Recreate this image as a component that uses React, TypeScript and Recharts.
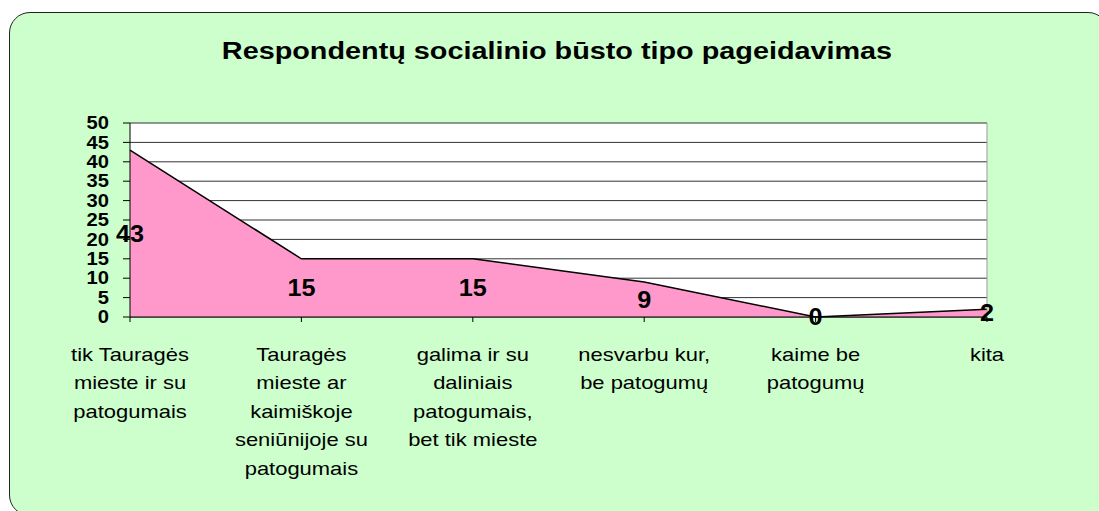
import { AreaChart, Area, XAxis, YAxis, CartesianGrid, LabelList, ReferenceLine } from 'recharts';

// Chart data
const categories = [
  'tik Tauragės mieste ir su patogumais',
  'Tauragės mieste ar kaimiškoje seniūnijoje su patogumais',
  'galima ir su daliniais patogumais, bet tik mieste',
  'nesvarbu kur, be patogumų',
  'kaime be patogumų',
  'kita',
];
// How each category label wraps in the reference
const categoryLines = [
  ['tik Tauragės', 'mieste ir su', 'patogumais'],
  ['Tauragės', 'mieste ar', 'kaimiškoje', 'seniūnijoje su', 'patogumais'],
  ['galima ir su', 'daliniais', 'patogumais,', 'bet tik mieste'],
  ['nesvarbu kur,', 'be patogumų'],
  ['kaime be', 'patogumų'],
  ['kita'],
];
const values = [43, 15, 15, 9, 0, 2];
const yTicks = [0, 5, 10, 15, 20, 25, 30, 35, 40, 45, 50];

const title = 'Respondentų socialinio būsto tipo pageidavimas';

const FONT = '"Liberation Sans", Arial, sans-serif';
const CHART_W = 1099;
const CHART_H = 511;
const MARGIN = { top: 123, right: 112, left: 30, bottom: 14 };
const X_AXIS_H = 180;
const PLOT_BOTTOM = CHART_H - MARGIN.bottom - X_AXIS_H;

const data = categories.map((name, i) => ({ name, value: values[i] }));

function XTick(props: any) {
  const { x, y, payload } = props;
  const idx = categories.indexOf(payload.value);
  const lines = categoryLines[idx] ?? [payload.value];
  return (
    <g transform={`translate(${x},${y})`}>
      <text transform="scale(1.22,1)" textAnchor="middle" fontSize={18} fontFamily={FONT} fill="#000">
        {lines.map((l, i) => (
          <tspan key={i} x={0} y={39 + i * 28.5}>
            {l}
          </tspan>
        ))}
      </text>
    </g>
  );
}

function YTick(props: any) {
  const { x, y, payload } = props;
  return (
    <g transform={`translate(${x},${y}) scale(1.12,1)`}>
      <text textAnchor="end" dominantBaseline="central" fontSize={18} fontWeight="bold" fontFamily={FONT} fill="#000">
        {payload.value}
      </text>
    </g>
  );
}

// Excel puts the value label halfway between the point and the axis
function ValueLabel(props: any) {
  const { x, y, value } = props;
  const midY = (y + PLOT_BOTTOM) / 2;
  return (
    <g transform={`translate(${x},${midY}) scale(1.05,1)`}>
      <text textAnchor="middle" dominantBaseline="central" fontSize={24} fontWeight="bold" fontFamily={FONT} fill="#000">
        {value}
      </text>
    </g>
  );
}

export default function App() {
  return (
    <div style={{ position: 'fixed', left: 0, top: 0, width: CHART_W, height: CHART_H, overflow: 'hidden' }}>
      <div
        style={{
          position: 'absolute',
          left: 9,
          top: 12,
          width: 1100,
          height: 504,
          boxSizing: 'border-box',
          border: '1px solid #222',
          borderRadius: 21,
          background: '#CCFFCC',
        }}
      />
      <svg width={CHART_W} height={90} style={{ position: 'absolute', left: 0, top: 0 }}>
        <g transform="translate(557,59) scale(1.2,1)">
          <text textAnchor="middle" fontSize={24} fontWeight="bold" fontFamily={FONT} fill="#000">
            {title}
          </text>
        </g>
      </svg>
      <div style={{ position: 'absolute', left: 0, top: 0 }}>
        <AreaChart width={CHART_W} height={CHART_H} data={data} margin={MARGIN}>
          <CartesianGrid vertical={false} stroke="#333" fill="#fff" />
          <XAxis
            dataKey="name"
            interval={0}
            height={X_AXIS_H}
            tick={<XTick />}
            tickSize={5}
            tickMargin={0}
            axisLine={{ stroke: '#000' }}
            tickLine={{ stroke: '#000' }}
          />
          <YAxis
            domain={[0, 50]}
            ticks={yTicks}
            interval={0}
            width={100}
            tick={<YTick />}
            tickSize={7}
            tickMargin={14}
            axisLine={{ stroke: '#000' }}
            tickLine={{ stroke: '#000' }}
          />
          <ReferenceLine x={categories[categories.length - 1]} stroke="#999" />
          <Area
            type="linear"
            dataKey="value"
            stroke="#000"
            strokeWidth={1.5}
            fill="#FF99CC"
            fillOpacity={1}
            dot={false}
            activeDot={false}
            isAnimationActive={false}
          >
            <LabelList dataKey="value" content={<ValueLabel />} />
          </Area>
        </AreaChart>
      </div>
    </div>
  );
}
